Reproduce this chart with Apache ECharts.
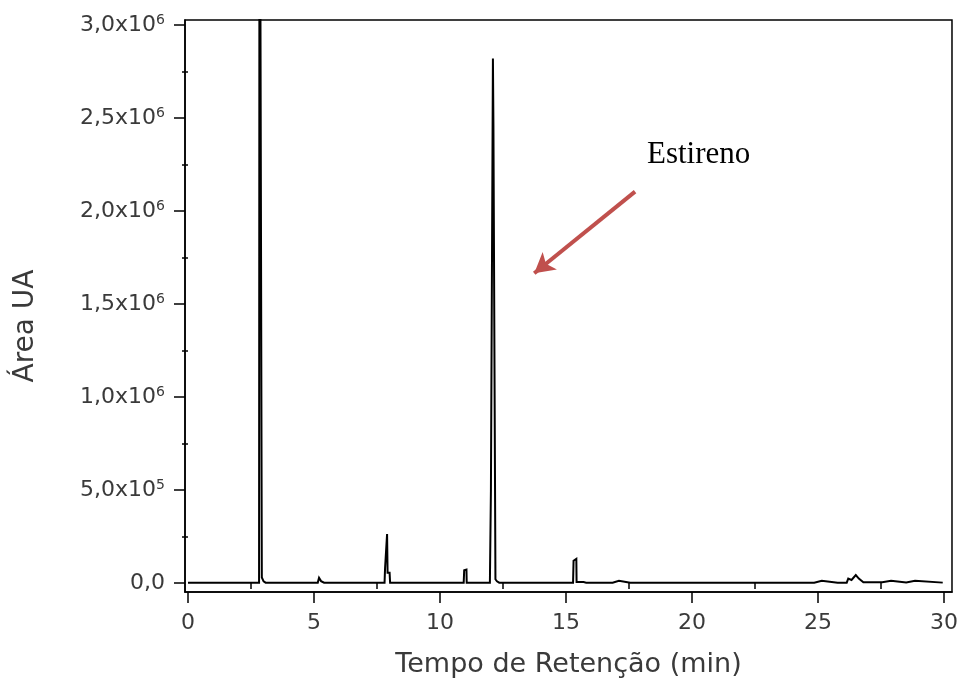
<!DOCTYPE html>
<html>
<head>
<meta charset="utf-8">
<script src="https://cdn.jsdelivr.net/npm/echarts@6/dist/echarts.min.js"></script>
<style>
  html, body { margin: 0; padding: 0; background: #fff; }
  #chart { width: 961px; height: 687px; }
</style>
</head>
<body>
<div id="chart"></div>
<script>
// ---- data ----
const retentionTime = [
  0.00, 2.25, 2.32, 2.40, 2.82, 2.84, 2.91, 2.93, 3.00, 3.08,
  5.15, 5.20, 5.28, 5.40,
  7.80, 7.82, 7.88, 7.90, 7.92, 8.00, 8.02,
  10.94, 10.96, 11.05, 11.06,
  11.98, 12.00, 12.02, 12.09, 12.10, 12.12, 12.18, 12.20, 12.26, 12.35,
  13.25, 13.30, 13.35, 14.05, 14.10, 14.15, 14.28, 14.33, 14.38,
  15.28, 15.30, 15.41, 15.42, 15.70, 15.75, 15.80,
  16.85, 16.90, 17.10, 17.15, 17.55, 17.60, 17.65, 17.82, 17.86, 17.92,
  18.00, 18.05, 18.12, 22.85, 22.90, 22.95,
  24.85, 24.90, 25.15, 25.20, 25.78, 25.80, 25.83,
  26.14, 26.20, 26.33, 26.50, 26.62, 26.80,
  27.55, 27.60, 27.90, 27.95, 28.50, 28.55, 28.85, 28.90, 29.95
];
const areaUA = [
  2000, 2000, 12000, 2000, 2000, 5000000, 5000000, 30000, 9000, 2000,
  2000, 28000, 10000, 2000,
  2000, 80000, 80000, 263000, 55000, 55000, 2000,
  2000, 68000, 72000, 2000,
  2000, 8000, 490000, 490000, 2820000, 2460000, 2460000, 20000, 9000, 2000,
  2000, 12000, 2000, 2000, 12000, 2000, 2000, 12000, 2000,
  2000, 120000, 130000, 5000, 5000, 14000, 2000,
  2000, 12000, 12000, 2000, 2000, 10000, 2000, 2000, 12000, 2000,
  2000, 12000, 2000, 2000, 10000, 2000,
  2000, 12000, 12000, 2000, 2000, 10000, 2000,
  2000, 24000, 16000, 43000, 24000, 4000,
  4000, 12000, 12000, 3000, 3000, 12000, 12000, 2000, 2000
];

const xTickValues = [0, 5, 10, 15, 20, 25, 30];
const xTickLabels = ['0', '5', '10', '15', '20', '25', '30'];
const xMinorTicks = [2.5, 7.5, 12.5, 17.5, 22.5, 27.5];

const yTickValues = [0, 500000, 1000000, 1500000, 2000000, 2500000, 3000000];
const yTickMantissa = ['0,0', '5,0', '1,0', '1,5', '2,0', '2,5', '3,0'];
const yTickExponent = ['', '5', '6', '6', '6', '6', '6'];
const yMinorTicks = [250000, 750000, 1250000, 1750000, 2250000, 2750000];

const annotationText = 'Estireno';
const arrowStart = [17.74, 2104000];
const arrowEnd = [13.74, 1665000];

// ---- chart ----
const chart = echarts.init(document.getElementById('chart'), null, { renderer: 'canvas' });
const sans = 'DejaVu Sans';
const labelColor = '#3a3a3a';

const seriesData = retentionTime.map((t, i) => [t, areaUA[i]]);

function yLabel(v) {
  const i = yTickValues.findIndex(t => Math.abs(t - v) < 1);
  if (i < 0) return '';
  if (!yTickExponent[i]) return yTickMantissa[i];
  return yTickMantissa[i] + 'x10{sup|' + yTickExponent[i] + '}';
}

const option = {
  animation: false,
  backgroundColor: '#ffffff',
  grid: {
    left: 185, right: 9, top: 20, bottom: 95,
    show: true, borderColor: '#000', borderWidth: 1.5, backgroundColor: 'transparent'
  },
  xAxis: [
    {
      type: 'value', position: 'bottom',
      min: -0.119, max: 30.317,
      name: 'Tempo de Retenção (min)', nameLocation: 'middle', nameGap: 59,
      nameTextStyle: { fontFamily: sans, fontSize: 27, color: labelColor },
      axisLine: { show: true, onZero: false, lineStyle: { color: '#000', width: 1.5 } },
      axisTick: { show: true, length: 11, customValues: xTickValues, lineStyle: { color: '#000', width: 1.5 } },
      axisLabel: {
        show: true, customValues: xTickValues, margin: 20,
        fontFamily: sans, fontSize: 22, color: labelColor,
        formatter: v => { const i = xTickValues.findIndex(t => Math.abs(t - v) < 1e-6); return i < 0 ? '' : xTickLabels[i]; }
      },
      splitLine: { show: false }
    },
    {
      type: 'value', position: 'bottom',
      min: -0.119, max: 30.317,
      axisLine: { show: false },
      axisTick: { show: true, length: 6, customValues: xMinorTicks, lineStyle: { color: '#000', width: 1.5 } },
      axisLabel: { show: false },
      splitLine: { show: false }
    }
  ],
  yAxis: [
    {
      type: 'value', position: 'left',
      min: -48400, max: 3026900,
      name: 'Área UA', nameLocation: 'middle', nameGap: 145,
      nameTextStyle: { fontFamily: sans, fontSize: 28, color: labelColor, padding: [0, 40, 0, 0] },
      axisLine: { show: true, onZero: false, lineStyle: { color: '#000', width: 1.5 } },
      axisTick: { show: true, length: 11, customValues: yTickValues, lineStyle: { color: '#000', width: 1.5 } },
      axisLabel: {
        show: true, customValues: yTickValues, margin: 20,
        fontFamily: sans, fontSize: 22, color: labelColor, lineHeight: 24,
        formatter: yLabel,
        rich: {
          sup: { fontFamily: sans, fontSize: 14, color: labelColor, verticalAlign: 'top', lineHeight: 14 }
        }
      },
      splitLine: { show: false }
    },
    {
      type: 'value', position: 'left',
      min: -48400, max: 3026900,
      axisLine: { show: false },
      axisTick: { show: true, length: 6, customValues: yMinorTicks, lineStyle: { color: '#000', width: 1.5 } },
      axisLabel: { show: false },
      splitLine: { show: false }
    }
  ],
  series: [
    {
      type: 'line',
      xAxisIndex: 0, yAxisIndex: 0,
      data: seriesData,
      showSymbol: false, symbol: 'none',
      clip: true,
      lineStyle: { color: '#000', width: 2, join: 'miter' },
      silent: true,
      markLine: {
        silent: true,
        symbol: ['none', 'arrow'],
        symbolSize: [17, 20],
        label: { show: false },
        lineStyle: { color: '#c0504d', width: 4, type: 'solid' },
        emphasis: { disabled: true },
        data: [[{ coord: arrowStart }, { coord: arrowEnd }]]
      }
    }
  ],
  graphic: [
    {
      type: 'text', left: 647, top: 139,
      style: { text: annotationText, fontFamily: 'Liberation Serif', fontSize: 31, fill: '#000' }
    }
  ]
};
chart.setOption(option);
</script>
</body>
</html>
